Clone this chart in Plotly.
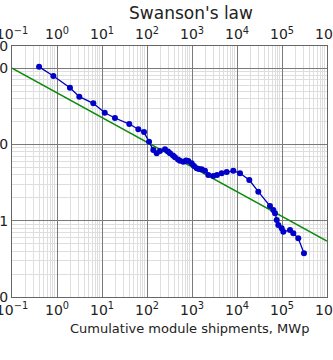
import plotly.graph_objects as go

# Cumulative module shipments (MWp) and price ($/Wp)
shipments = [0.4, 0.83, 1.94, 3.13, 6.41, 11.5, 19.4, 40.4, 64.1, 85.8,
             111, 138, 164, 194, 251, 293, 324, 378, 419, 489,
             541, 641, 736, 828, 985, 1108, 1271, 1431, 1643, 1944,
             2302, 2974, 3594, 4571, 5902, 8278, 11660, 18770, 29720, 54100,
             64100, 69900, 76200, 82800, 98400, 107000, 150600, 178300, 230000, 308000]
price = [104, 78.7, 55.4, 42.2, 34.6, 26.0, 22.2, 18.5, 15.8, 14.5,
         10.8, 8.45, 7.64, 8.19, 8.63, 8.07, 7.64, 7.16, 6.78, 6.34,
         6.11, 5.93, 6.15, 6.06, 5.65, 5.21, 4.86, 4.76, 4.72, 4.52,
         3.97, 3.85, 3.97, 4.18, 4.35, 4.52, 4.18, 3.41, 2.40, 1.56,
         1.38, 1.25, 1.02, 0.88, 0.795, 0.718, 0.755, 0.684, 0.588, 0.374]

# Swanson's law trend line endpoints
trend_x = [0.1, 1e6]
trend_y = [100, 0.54]

x_tickvals = [0.1, 1, 10, 100, 1000, 1e4, 1e5, 1e6]
x_ticktext = ["10<sup>−1</sup>", "10<sup>0</sup>", "10<sup>1</sup>", "10<sup>2</sup>",
              "10<sup>3</sup>", "10<sup>4</sup>", "10<sup>5</sup>", "10<sup>6</sup>"]
y_tickvals = [0.1, 1, 10, 100, 195]
y_ticktext = ["0", "1", "0", "0", "0"]

title_text = "Swanson's law"
xlabel_text = "Cumulative module shipments, MWp"

FONT = "DejaVu Sans"
TXT = "#222222"
MAJ = "#7a7a7a"
MIN = "#dedede"

fig = go.Figure()
fig.add_trace(go.Scatter(x=trend_x, y=trend_y, mode="lines",
                         line=dict(color="#0a8a0a", width=1.6), showlegend=False,
                         hoverinfo="skip"))
fig.add_trace(go.Scatter(x=shipments, y=price, mode="lines+markers",
                         line=dict(color="#0000b8", width=1.3),
                         marker=dict(color="#0000c8", size=6), showlegend=False))
# invisible trace for the top axis
fig.add_trace(go.Scatter(x=trend_x, y=trend_y, xaxis="x2", mode="lines",
                         line=dict(width=0), opacity=0, showlegend=False, hoverinfo="skip"))

axis_common = dict(type="log", showline=True, linecolor="#666666", linewidth=1,
                   mirror=True, ticks="", automargin=False, ticklabeloverflow="allow",
                   tickfont=dict(family=FONT, size=14, color=TXT))

fig.update_layout(
    width=333, height=360,
    margin=dict(l=12, r=6, t=46, b=63),
    paper_bgcolor="white", plot_bgcolor="white",
    font=dict(family=FONT, color=TXT),
    title=dict(text=title_text, x=191 / 333, xanchor="center", y=1 - 13 / 360,
               yanchor="middle", font=dict(family=FONT, size=17, color=TXT)),
    xaxis=dict(range=[-1, 6], tickmode="array", tickvals=x_tickvals, ticktext=x_ticktext,
               showgrid=True, gridcolor=MAJ, gridwidth=1,
               minor=dict(showgrid=True, gridcolor=MIN, gridwidth=1, dtick="D1"),
               **axis_common),
    xaxis2=dict(range=[-1, 6], overlaying="x", side="top", tickmode="array",
                tickvals=x_tickvals, ticktext=x_ticktext, showgrid=False,
                **axis_common),
    yaxis=dict(range=[-1, 2.29], tickmode="array", tickvals=y_tickvals, ticktext=y_ticktext,
               showgrid=True, gridcolor=MAJ, gridwidth=1,
               minor=dict(showgrid=True, gridcolor=MIN, gridwidth=1, dtick="D1"),
               **axis_common),
    annotations=[dict(text=xlabel_text, xref="paper", yref="paper",
                      x=(189 - 12) / (333 - 18), y=-(328 - 297) / 251,
                      xanchor="center", yanchor="middle", showarrow=False,
                      font=dict(family=FONT, size=13, color=TXT))],
)

fig.write_html("out.html")
